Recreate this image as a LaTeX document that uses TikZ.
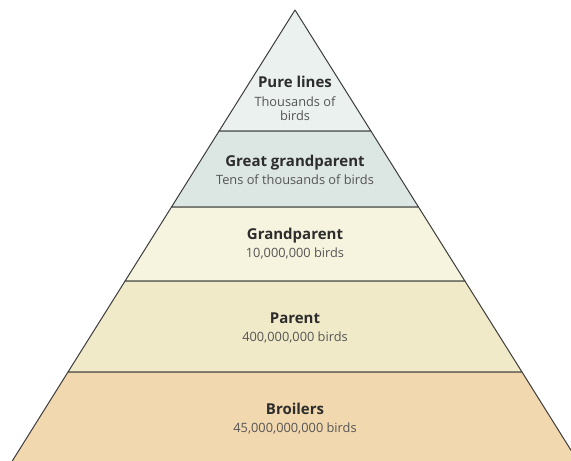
\documentclass[tikz,border=0pt]{standalone}
\usepackage{fontspec}
\setmainfont{Open Sans}
\usetikzlibrary{positioning}

\definecolor{edgegray}{RGB}{60,60,60}
\definecolor{titlegray}{RGB}{45,45,45}
\definecolor{subgray}{RGB}{85,85,85}
\definecolor{pureclr}{RGB}{234,241,238}
\definecolor{greatclr}{RGB}{220,230,226}
\definecolor{grandclr}{RGB}{246,243,222}
\definecolor{parentclr}{RGB}{240,234,200}
\definecolor{broilclr}{RGB}{242,216,174}

\begin{document}
\begin{tikzpicture}[
  x=1pt, y=-1pt,
  tier/.style={draw=edgegray, line width=1pt, line join=round},
  title/.style={font=\bfseries\fontsize{15}{17}\selectfont, text=titlegray, inner sep=0pt, anchor=base},
  sub/.style={font=\fontsize{12.8}{14.5}\selectfont, text=subgray, inner sep=0pt, align=center, anchor=base}
]
\useasboundingbox (0,0) rectangle (571,461);
\clip (0,0) rectangle (571,461);

% tiers of the pyramid, top to bottom
\draw[tier, fill=pureclr]   (295,10) -- (370.9,131) -- (219.1,131) -- cycle;
\draw[tier, fill=greatclr]  (219.1,131) -- (370.9,131) -- (418.5,207) -- (171.5,207) -- cycle;
\draw[tier, fill=grandclr]  (171.5,207) -- (418.5,207) -- (464.9,281) -- (125.1,281) -- cycle;
\draw[tier, fill=parentclr] (125.1,281) -- (464.9,281) -- (522,372) -- (68,372) -- cycle;
\draw[tier, fill=broilclr]  (68,372) -- (522,372) -- (579,463) -- (11,463) -- cycle;

% labels
\node[title] (pure) at (295,87) {Pure lines};
\node[sub, anchor=north, below=9pt of pure] (puren) {Thousands of\\birds};
\node[title] (great) at (295,166) {Great grandparent};
\node[sub] (greatn) at (295,184) {Tens of thousands of birds};
\node[title] (grand) at (295,239) {Grandparent};
\node[sub] (grandn) at (295,257) {10,000,000 birds};
\node[title] (parent) at (295,323) {Parent};
\node[sub] (parentn) at (295,341) {400,000,000 birds};
\node[title] (broil) at (295,414) {Broilers};
\node[sub] (broiln) at (295,432) {45,000,000,000 birds};
\end{tikzpicture}
\end{document}
